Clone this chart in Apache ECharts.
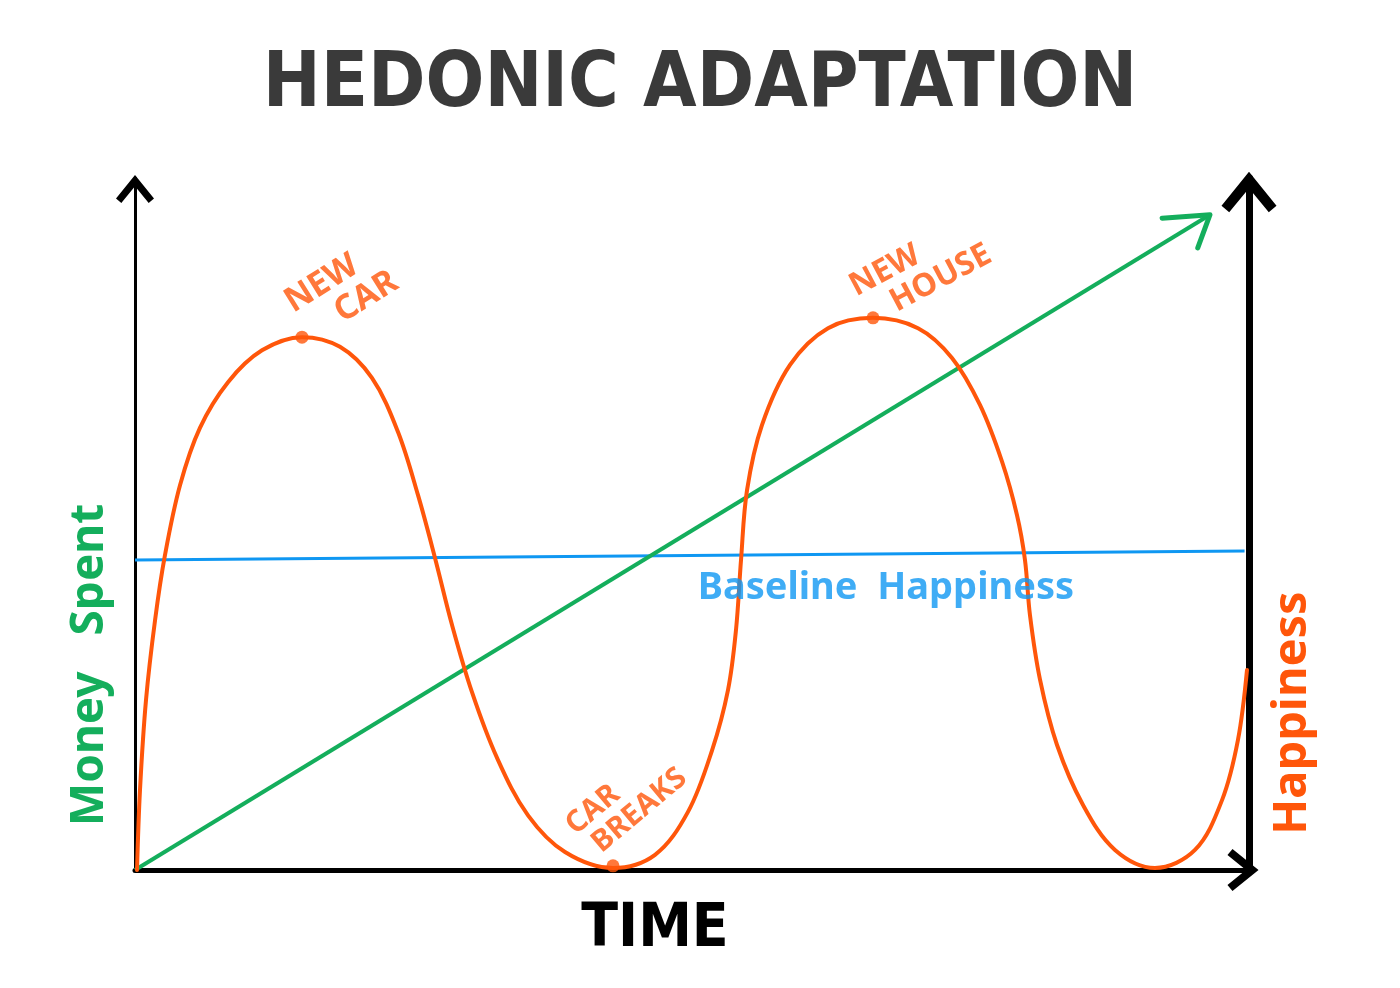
<!DOCTYPE html>
<html><head><meta charset="utf-8">
<script src="https://cdn.jsdelivr.net/npm/echarts@6/dist/echarts.min.js"></script>
<style>html,body{margin:0;padding:0;background:#fff}#c{width:1400px;height:988px}</style>
</head><body><div id="c"></div>
<script>
// ---- data (x: time 0-100, y: 0-100) ----
const happinessCurve = [
  [0.18,0],[0.45,11.6],[0.99,24.6],[1.8,36.1],[2.69,45.5],[4.04,55.6],[5.83,63.9],[8.35,70.5],
  [11.4,75.1],[14.99,77.0],[18.4,75.6],[21.27,71.1],[23.61,63.3],[25.4,54.2],[26.93,45.1],
  [28.46,35.4],[30.25,25.7],[32.5,16.2],[35.28,7.9],[38.6,2.6],[42.91,0.3],
  [46.68,2.2],[49.64,8.4],[51.8,17.3],[53.23,26.0],[53.95,34.7],[54.4,44.8],[54.94,54.9],
  [56.28,64.3],[58.8,73.0],[62.21,78.3],[66.25,79.8],[70.29,78.3],[73.34,74.0],[75.85,67.2],
  [77.83,59.0],[79.17,51.3],[79.89,44.8],[80.34,36.8],[81.24,27.5],[82.76,18.1],[85.1,9.4],
  [87.97,2.9],[91.56,0.3],[95.15,2.9],[97.58,10.1],[99.01,18.8],[99.82,28.9]
];
const moneySpent = [[0,0],[96.5,94.7]];
const moneyArrowHead = [[92.2,94.2],[96.5,94.7],[95.4,89.9]];
const baselineHappiness = [[0,44.8],[99.6,46.1]];
const eventPoints = [[14.99,77.0],[66.25,79.8],[42.91,0.6]];
const noteLines = [['NEW   ', '    CAR'], ['NEW      ', '     HOUSE'], ['CAR      ', '   BREAKS'], ['Baseline  Happiness']];
const notePositions = [[18.6,83.6],[70.0,86.2],[43.6,9.2],[67.4,40.7]];
const noteAngles = [32, 28, 40, 0];
const titleText = 'HEDONIC ADAPTATION';
const xName = 'TIME';
const leftName = 'Money   Spent';
const rightName = 'Happiness';

// ---- styles ----
const ORANGE = '#ff560a', GREEN = '#14ae5c', BLUE = '#0f97f2';
const chevron = 'path://M50,0 L100,62 L86,74 L50,30 L14,74 L0,62 Z';
const noteColors = [ORANGE, ORANGE, ORANGE, BLUE];
const noteSizes = [34, 32, 30, 38];

const noteData = noteLines.map((lines, i) => ({
  value: notePositions[i],
  name: lines.join('\n'),
  label: {
    show: true, position: 'inside', formatter: '{b}', rotate: noteAngles[i],
    color: noteColors[i], fontSize: noteSizes[i], fontWeight: 'bold',
    fontFamily: "'Noto Sans', sans-serif", lineHeight: noteSizes[i] * 1.02
  }
}));

const chart = echarts.init(document.getElementById('c'), null, {renderer: 'canvas'});
chart.setOption({
  backgroundColor: '#ffffff',
  animation: false,
  title: {
    text: titleText, left: 'center', top: 42,
    textStyle: {fontSize: 77, fontWeight: 'bold', color: '#3a3a3a',
      fontFamily: "'DejaVu Sans Condensed', 'DejaVu Sans', sans-serif"}
  },
  grid: {left: 135, right: 151, top: 178, bottom: 118, containLabel: false},
  xAxis: {
    type: 'value', min: 0, max: 100,
    name: xName, nameLocation: 'middle', nameGap: 30,
    nameTextStyle: {fontSize: 60, fontWeight: 'bold', color: '#000',
      fontFamily: "'DejaVu Sans Condensed', sans-serif", padding: [0, 74, 0, 0]},
    axisLine: {show: true, lineStyle: {color: '#000', width: 5},
      symbol: ['none', chevron], symbolSize: [42, 32], symbolOffset: [0, -6]},
    axisTick: {show: false}, axisLabel: {show: false}, splitLine: {show: false}
  },
  yAxis: [{
    type: 'value', min: 0, max: 100, position: 'left',
    name: leftName, nameLocation: 'middle', nameGap: 22,
    nameTextStyle: {fontSize: 46, fontWeight: 'bold', color: GREEN,
      fontFamily: "'Noto Sans', sans-serif", padding: [0, 282, 0, 0]},
    axisLine: {show: true, lineStyle: {color: '#000', width: 3},
      symbol: ['none', chevron], symbolSize: [38, 30], symbolOffset: [0, -11]},
    axisTick: {show: false}, axisLabel: {show: false}, splitLine: {show: false}
  }, {
    type: 'value', min: 0, max: 100, position: 'right',
    name: rightName, nameLocation: 'middle', nameGap: 20,
    nameTextStyle: {fontSize: 47, fontWeight: 'bold', color: ORANGE,
      fontFamily: "'Noto Sans', sans-serif", padding: [0, 378, 0, 0]},
    axisLine: {show: true, lineStyle: {color: '#000', width: 7},
      symbol: ['none', chevron], symbolSize: [55, 43], symbolOffset: [0, -14]},
    axisTick: {show: false}, axisLabel: {show: false}, splitLine: {show: false}
  }],
  series: [
    {type: 'line', name: 'Baseline Happiness', data: baselineHappiness, showSymbol: false,
      lineStyle: {color: BLUE, width: 3}, z: 2, silent: true},
    {type: 'line', name: 'Money Spent', data: moneySpent, showSymbol: false,
      lineStyle: {color: GREEN, width: 4}, z: 3, silent: true},
    {type: 'line', name: 'Money Spent arrow', data: moneyArrowHead, showSymbol: false, clip: false,
      lineStyle: {color: GREEN, width: 5, cap: 'round', join: 'round'}, z: 3, silent: true},
    {type: 'line', name: 'Happiness', data: happinessCurve, showSymbol: false, smooth: 0.35,
      lineStyle: {color: ORANGE, width: 4, cap: 'round'}, z: 4, silent: true},
    {type: 'scatter', name: 'Events', data: eventPoints, symbolSize: 13,
      itemStyle: {color: ORANGE}, z: 5, silent: true},
    {type: 'scatter', name: 'Notes', data: noteData, symbolSize: 0, z: 6, silent: true}
  ]
});
</script></body></html>
